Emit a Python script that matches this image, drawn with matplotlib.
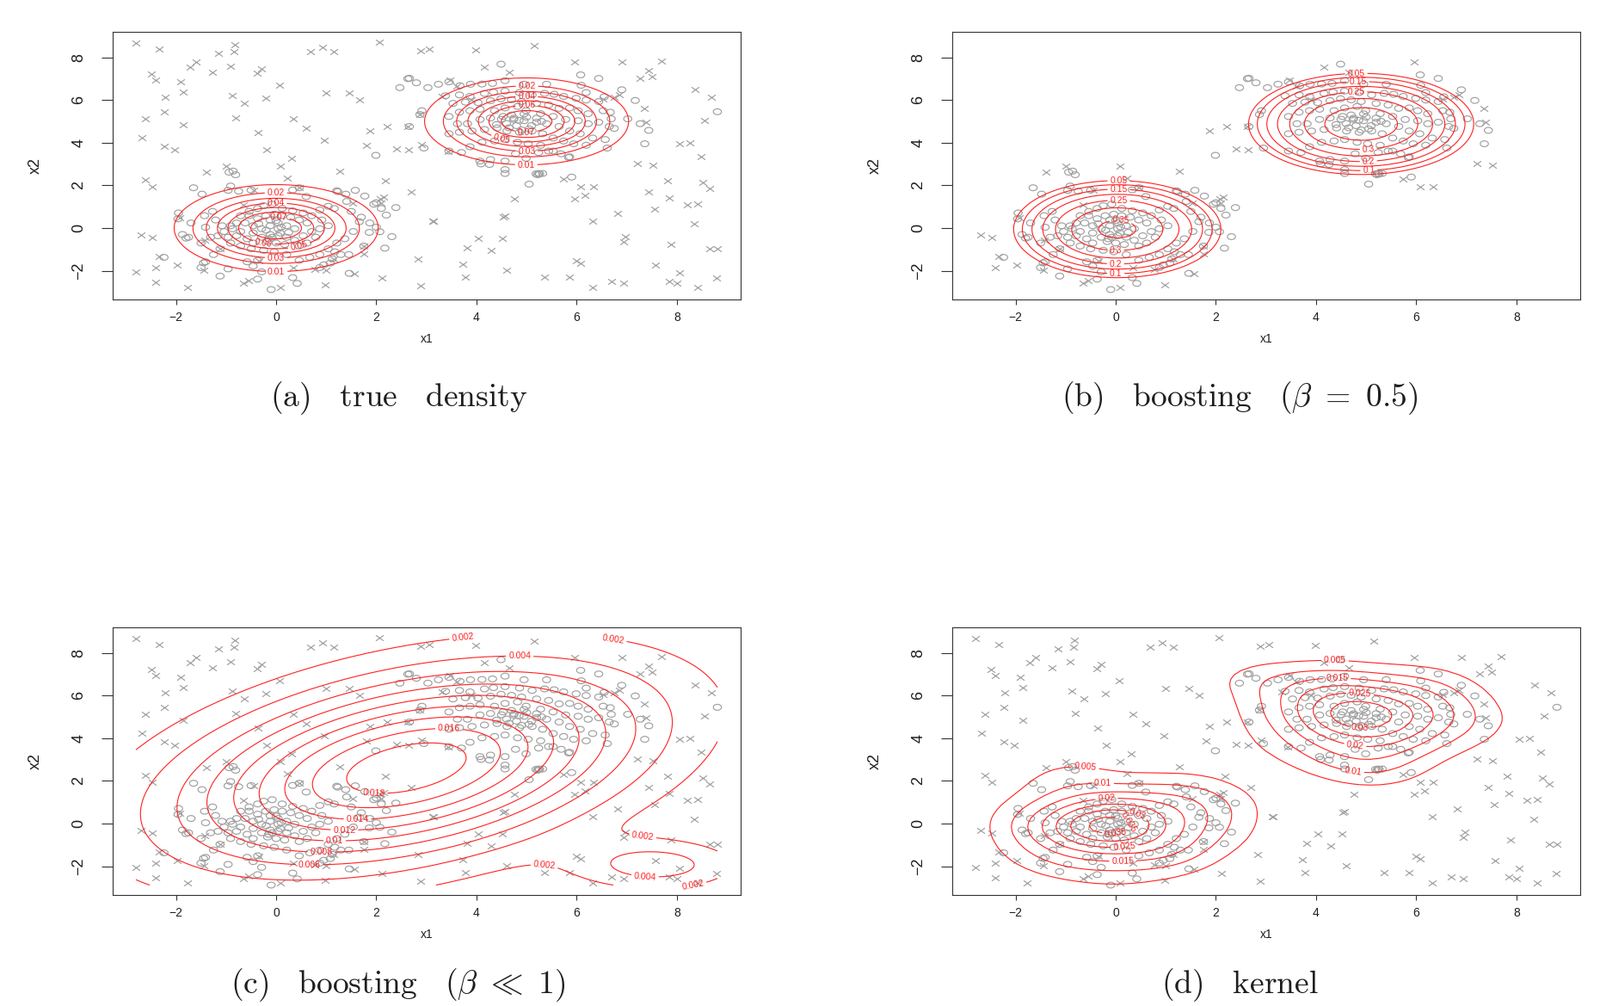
import numpy as np
import matplotlib
matplotlib.use("Agg")
import matplotlib.pyplot as plt
from matplotlib.path import Path

plt.rcParams['mathtext.fontset'] = 'cm'
plt.rcParams['font.family'] = ['Liberation Sans', 'DejaVu Sans']
plt.rcParams['axes.unicode_minus'] = True

# ---------------- data ----------------
circles_1 = np.array([
    (-1.65, 1.89), (-1.48, 1.59), (-0.91, 1.97), (-0.96, 1.77), (-0.75, 1.73), (-0.50, 1.78), (-0.86, 2.67),
    (-0.94, 2.62), (-0.81, 2.50), (0.33, 1.79), (0.46, 1.89), (0.60, 1.48), (1.21, 1.75), (1.39, 1.59),
    (1.58, 1.77), (1.77, 1.50), (2.00, 1.19), (2.10, 0.92), (2.39, 0.96), (2.20, 0.61), (2.31, -0.40),
    (2.17, -0.94), (1.95, 1.12), (-1.95, 0.71), (-1.70, 0.24), (-1.43, 0.58), (-1.27, 0.78), (-1.21, 0.38),
    (-1.41, 0.04), (-1.75, -0.43), (-1.50, -0.70), (-1.31, -0.43), (-1.04, -0.16), (-0.91, 0.11), (-0.79, 0.24),
    (-0.71, 0.58), (-0.54, 0.78), (-0.37, 0.92), (-0.25, 1.05), (-0.08, 1.12), (0.12, 0.92), (0.33, 0.81),
    (0.54, 0.71), (0.71, 0.58), (0.87, 0.85), (1.04, 1.02), (1.16, 0.92), (1.41, 1.25), (1.50, 0.78),
    (1.70, 0.51), (1.87, 0.24), (2.00, 0.04), (1.54, -0.16), (1.37, -0.50), (1.21, -0.70), (1.04, -0.97),
    (0.87, -1.24), (0.67, -1.37), (0.46, -1.51), (0.21, -1.24), (-0.04, -1.11), (-0.25, -1.04), (-0.50, -0.97),
    (-0.71, -0.84), (-0.91, -0.70), (-1.12, -0.97), (-1.25, -1.24), (-1.41, -1.58), (-1.50, -1.85), (-1.12, -2.25),
    (-0.58, -1.58), (-0.37, -1.51), (-0.29, -2.05), (-0.10, -2.88), (0.33, -2.32), (0.42, -2.59), (0.87, -1.85),
    (1.12, -1.44), (1.29, -1.24), (1.45, -1.24), (1.75, -0.84), (1.08, -1.64), (-2.24, -1.37), (-1.87, -0.30),
    (-0.96, -1.91), (-0.46, -1.78),
    (-0.62, 0.24), (-0.46, 0.11), (-0.29, -0.03), (-0.12, 0.11), (0.04, 0.24), (0.21, 0.11), (0.37, -0.03),
    (-0.29, -0.43), (-0.12, -0.30), (0.04, -0.36), (0.21, -0.43), (-0.46, -0.23), (-0.58, -0.50), (-0.71, -0.16),
    (-0.17, -0.63), (0.00, -0.70), (0.17, -0.77), (0.37, -0.57), (0.54, -0.36), (0.71, -0.16), (0.62, 0.24),
    (0.46, 0.38), (0.29, 0.51), (0.12, 0.58), (-0.04, 0.65), (-0.21, 0.58), (-0.37, 0.44), (-0.54, 0.58),
    (-0.79, -0.36), (-0.87, -0.03), (0.46, -0.84), (0.62, -0.70), (0.79, -0.43), (0.87, -0.03), (1.04, 0.11),
    (0.91, 0.38), (-0.96, -0.43), (-1.08, 0.11), (-1.16, -0.36), (-0.46, -0.70), (0.04, -0.03), (-0.12, 0.38),
    (-0.08, -0.43), (0.08, -0.23),
    (-1.45, -1.63), (-0.37, -2.39), (-1.80, -0.47), (-1.96, 0.43), (1.23, 1.71), (1.86, -0.20), (2.07, -0.17),
    (1.66, 0.30), (1.46, -2.12), (0.95, -1.72), (1.17, -1.11),
    (-0.20, -0.10), (0.10, 0.05), (-0.35, 0.20), (0.25, -0.20), (0.00, 0.35), (-0.15, -0.50),
])

circles_2 = np.array([
    (4.49, 7.68), (2.66, 7.02), (2.80, 6.81), (2.47, 6.58), (3.03, 6.58), (3.24, 6.74), (3.45, 6.85), (3.67, 6.67),
    (3.88, 6.74), (4.11, 6.75), (4.32, 6.78), (4.57, 6.91), (4.95, 6.74), (5.40, 6.74), (6.08, 7.18), (6.44, 7.01),
    (6.09, 6.69), (6.90, 6.48), (6.19, 6.35), (7.17, 5.98), (6.55, 6.15), (2.91, 5.50), (2.87, 5.32), (3.38, 6.20),
    (3.66, 6.24), (3.87, 6.17), (4.16, 6.31), (4.34, 6.37), (4.57, 6.42), (4.86, 6.35), (5.11, 6.24), (5.36, 6.31),
    (5.55, 6.27), (5.74, 6.17), (5.99, 6.08), (6.19, 6.00), (6.44, 5.93), (3.53, 5.84), (3.78, 5.90), (4.03, 5.88),
    (4.28, 5.97), (4.49, 6.06), (4.70, 6.01), (4.90, 5.93), (5.20, 5.84), (5.44, 5.77), (5.65, 5.61), (5.86, 5.63),
    (6.03, 5.50), (6.23, 5.36), (6.53, 5.50), (6.67, 5.43), (6.69, 5.12), (3.45, 5.23), (3.66, 5.43), (3.87, 5.50),
    (4.07, 5.57), (4.36, 5.50), (4.57, 5.63), (4.82, 5.70), (4.99, 5.50), (5.28, 5.36), (5.53, 5.23), (5.78, 5.09),
    (6.03, 5.03), (6.23, 4.89), (6.44, 4.96), (6.65, 4.76), (7.27, 4.89), (7.44, 4.58), (7.36, 3.95), (3.62, 4.89),
    (3.82, 4.89), (4.07, 5.09), (4.28, 5.16), (4.53, 5.23), (4.74, 5.09), (4.95, 5.03), (5.20, 4.96), (5.40, 4.89),
    (5.65, 4.76), (5.86, 4.55), (6.07, 4.42), (6.32, 4.22), (6.57, 4.15), (6.61, 3.75), (3.45, 4.42), (3.66, 4.49),
    (3.91, 4.55), (4.16, 4.62), (4.41, 4.69), (4.61, 4.55), (4.86, 4.49), (5.11, 4.55), (5.32, 4.42), (5.53, 4.22),
    (5.74, 4.08), (5.94, 3.95), (6.19, 3.88), (3.45, 3.61), (3.70, 3.54), (3.87, 3.81), (4.11, 4.02), (4.36, 4.08),
    (4.57, 4.15), (4.82, 4.02), (5.03, 3.95), (5.28, 3.88), (5.53, 3.61), (5.69, 3.48), (5.86, 3.34), (4.07, 3.14),
    (4.28, 3.21), (4.57, 3.14), (4.78, 3.48), (4.99, 3.27), (5.24, 3.54), (5.44, 3.61), (4.57, 2.74), (4.57, 2.56),
    (5.24, 2.56), (5.32, 2.56), (5.05, 2.06), (5.90, 2.39), (2.95, 3.75), (2.66, 4.76), (1.99, 3.41),
    (8.81, 5.45), (7.02, 5.12), (6.75, 4.67), (5.26, 2.54), (5.22, 2.50), (4.09, 3.01), (4.26, 2.98), (5.19, 2.54),
    (2.63, 7.00), (5.84, 3.31),
    (4.60, 4.90), (4.80, 4.80), (5.00, 5.20), (4.70, 5.30), (4.90, 4.60), (5.10, 4.80), (4.50, 5.10), (4.85, 5.05),
    (5.20, 5.15), (4.65, 4.70), (5.05, 4.65), (4.40, 4.85), (4.95, 5.35), (5.30, 5.00), (4.75, 5.15),
])

crosses = np.array([
    (-2.80, 8.69), (-2.34, 8.39), (-0.83, 8.60), (-0.84, 8.25), (-1.16, 8.20), (-1.59, 7.77), (-1.71, 7.54),
    (-0.91, 7.58), (-1.28, 7.29), (-2.50, 7.22), (-2.41, 6.92), (-1.90, 6.87), (-1.86, 6.37), (-2.22, 6.14),
    (-2.24, 5.46), (-2.61, 5.12), (-1.86, 4.85), (-2.68, 4.22), (-2.23, 3.82), (-2.03, 3.67), (-0.87, 6.21),
    (-0.64, 5.83), (-0.80, 5.16), (-0.38, 7.27), (-0.30, 7.46), (0.07, 6.69), (-0.21, 6.08), (0.35, 5.12),
    (0.60, 4.68), (-0.37, 4.49), (-0.19, 3.67), (0.31, 3.27), (-1.00, 2.90), (0.08, 2.90), (0.69, 8.28),
    (0.92, 8.47), (0.99, 6.34), (0.96, 4.12),
    (1.15, 8.25), (2.06, 8.73), (2.88, 8.32), (3.06, 8.37), (3.99, 8.33), (5.15, 8.53), (4.16, 7.54), (4.66, 7.28),
    (3.47, 6.92), (3.61, 6.67), (1.46, 6.32), (1.67, 6.00), (3.32, 6.17), (2.22, 4.76), (1.87, 4.54), (1.80, 3.89),
    (2.40, 3.71), (2.65, 3.69), (2.91, 3.91), (3.43, 3.58), (2.62, 4.75), (3.89, 6.00), (2.86, 5.32),
    (5.96, 7.78), (6.91, 7.78), (7.70, 7.82), (7.44, 7.38), (7.50, 7.10), (7.26, 7.00), (8.37, 6.48), (8.69, 6.13),
    (6.53, 6.06), (6.75, 6.13), (6.86, 6.24), (7.35, 5.62), (7.38, 4.98), (8.55, 5.06), (8.05, 3.94), (8.26, 4.01),
    (8.48, 3.33), (7.22, 3.04), (7.53, 2.93),
    (5.74, 2.31), (6.08, 1.94), (6.34, 1.94), (6.16, 1.53), (5.96, 1.37), (7.82, 2.22), (8.52, 2.14), (8.65, 1.87),
    (7.44, 1.71), (7.85, 1.40), (7.55, 0.90), (8.21, 1.10), (8.41, 1.13), (8.34, 0.20), (6.81, 0.70), (6.32, 0.34),
    (6.98, -0.40), (6.94, -0.65), (7.89, -0.78), (8.65, -0.98), (8.81, -0.98), (5.99, -1.54), (6.08, -1.65),
    (7.57, -1.72), (8.05, -2.08), (5.35, -2.30), (5.86, -2.30), (8.79, -2.32), (6.70, -2.50), (6.94, -2.57),
    (7.85, -2.50), (8.01, -2.57), (6.32, -2.79), (8.41, -2.79),
    (1.27, 2.65), (2.18, 2.22), (2.69, 1.68), (2.14, 1.44), (2.09, 1.17), (3.12, 0.32), (3.14, 0.34), (4.53, 0.54),
    (4.56, 0.55), (4.76, 1.37), (4.03, -0.48), (4.52, -0.48), (3.82, -0.94), (4.29, -1.05), (2.84, -1.45),
    (3.72, -1.68), (4.61, -1.99), (3.78, -2.28), (2.12, -2.35), (2.89, -2.70), (1.57, -2.12), (1.75, -1.22),
    (1.15, -1.45), (1.00, -1.99), (1.52, 1.17), (1.75, -0.85),
    (0.23, 2.35), (0.46, 1.88), (-1.40, 2.61), (-2.61, 2.25), (-2.47, 1.94), (-2.70, -0.31), (-2.48, -0.44),
    (-2.34, -1.31), (-2.80, -2.06), (-2.40, -1.85), (-2.40, -2.52), (-1.97, -1.72), (-1.77, -2.79), (-1.45, -1.99),
    (-0.66, -2.59), (-0.55, -2.46), (0.09, -2.79), (0.97, -2.66), (0.35, -1.85), (0.78, -1.95), (-0.45, 1.77),
    (-0.66, 1.10), (-1.92, 0.50), (-1.11, -0.98), (-1.43, -0.58), (-0.34, -1.52), (2.08, 1.39),
])

# crosses that are still drawn in panel (b)
crosses_b = np.array([
    (4.16, 7.54), (5.96, 7.78), (4.66, 7.28), (3.47, 6.92), (3.61, 6.67), (6.86, 6.24), (6.53, 6.06), (6.75, 6.13),
    (7.35, 5.62), (7.38, 4.98), (7.22, 3.04), (7.53, 2.93), (5.74, 2.31), (6.08, 1.94), (6.34, 1.94), (1.87, 4.54),
    (2.22, 4.76), (2.40, 3.71), (2.65, 3.69), (2.62, 4.75), (3.89, 6.00),
    (-1.00, 2.90), (0.08, 2.90), (-1.40, 2.61), (1.27, 2.65), (0.23, 2.35), (0.46, 1.88), (2.14, 1.44), (2.09, 1.17),
    (-2.70, -0.31), (-2.48, -0.44), (-1.92, 0.50), (-2.40, -1.85), (-1.97, -1.72), (-1.45, -1.99), (-0.66, -2.59),
    (-0.55, -2.46), (0.09, -2.79), (0.97, -2.66), (1.57, -2.12), (1.75, -1.22), (-2.34, -1.31), (0.78, -1.95),
    (0.35, -1.85), (1.52, 1.17), (2.08, 1.39), (-0.45, 1.77), (-0.66, 1.10), (-1.11, -0.98), (-1.43, -0.58),
    (-0.34, -1.52), (1.15, -1.45), (1.75, -0.85),
])
# circles that are not drawn in panel (b)
circles_b_hidden = np.array([(8.81, 5.45)])

levels_a = [0.01, 0.02, 0.03, 0.04, 0.05, 0.06, 0.07]
levels_b = [0.05, 0.10, 0.15, 0.20, 0.25, 0.30, 0.35]
levels_c = [0.002, 0.004, 0.006, 0.008, 0.010, 0.012, 0.014, 0.016, 0.018]
levels_d = [0.005, 0.010, 0.015, 0.020, 0.025, 0.030, 0.035, 0.040]

titles = [r'$\mathrm{(a)\ \ \ true\ \ \ density}$',
          r'$\mathrm{(b)\ \ \ boosting\ \ \ (}\beta\ =\ 0.5\mathrm{)}$',
          r'$\mathrm{(c)\ \ \ boosting\ \ \ (}\beta\ \ll\ 1\mathrm{)}$',
          r'$\mathrm{(d)\ \ \ kernel}$']

# density model parameters (estimated from the contour shapes)
true_means = [(0.0, 0.0), (5.0, 5.0)]
true_weights = [0.5, 0.5]
true_sd = 1.0

boost_b = [dict(center=(0.03, -0.05), peak=0.36, rx=2.23, ry=2.45),
           dict(center=(4.90, 4.88), peak=0.385, rx=2.41, ry=2.54)]

boost_c_main = dict(mean=(2.6, 2.6), cov=[[8.9, 3.6], [3.6, 8.7]], peak=0.0195)
boost_c_bump = dict(mean=(7.6, -1.95), cov=[[1.2, 0.0], [0.0, 0.62]], peak=0.0049)

kde_sd = 0.72     # kernel standard deviation for panel (d)
kde_mass = 0.8    # total mass of the kernel estimate (read from the contour levels)

# label anchor points (level, (x, y))
labels_a = [(0.02, (0, 1.66)), (0.04, (0, 1.17)), (0.07, (0.05, 0.5)), (0.06, (-0.25, -0.71)),
            (0.05, (0.45, -0.85)), (0.03, (0, -1.4)), (0.01, (0, -2.04)),
            (0.02, (5, 6.66)), (0.04, (5, 6.17)), (0.06, (5, 5.75)), (0.07, (5, 4.5)),
            (0.05, (4.5, 4.15)), (0.03, (5, 3.6)), (0.01, (5, 2.96))]
labels_b = [(0.05, (0.06, 2.29)), (0.15, (0.06, 1.77)), (0.25, (0.06, 1.23)), (0.35, (0.1, 0.37)),
            (0.30, (0.0, -0.94)), (0.20, (0.0, -1.62)), (0.10, (0.0, -2.12)),
            (0.05, (4.8, 7.25)), (0.15, (4.84, 6.68)), (0.25, (4.8, 6.06)), (0.30, (5.05, 3.69)),
            (0.20, (5.05, 3.12)), (0.10, (5.05, 2.70))]
labels_c = [(0.002, (3.74, 8.68)), (0.002, (6.73, 8.61)), (0.002, (7.3, -0.9)), (0.002, (5.36, -1.9)),
            (0.002, (8.1, -2.7)), (0.004, (4.86, 7.83)), (0.004, (7.36, -2.48)), (0.016, (3.45, 4.41)),
            (0.018, (1.95, 1.4)), (0.014, (1.62, 0.15)), (0.012, (1.37, -0.38)), (0.010, (1.16, -0.89)),
            (0.008, (0.91, -1.43)), (0.006, (0.66, -1.99))]
labels_d = [(0.005, (-0.61, 2.68)), (0.010, (-0.26, 2.1)), (0.020, (-0.19, 1.54)), (0.030, (0.5, 0.86)),
            (0.040, (0.02, 0.57)), (0.035, (0.02, -0.69)), (0.025, (0.18, -1.16)), (0.015, (0.14, -1.73)),
            (0.005, (4.38, 7.6)), (0.015, (4.42, 6.72)), (0.025, (4.88, 6.01)), (0.035, (4.83, 4.84)),
            (0.030, (4.88, 3.76)), (0.020, (4.75, 3.26)), (0.010, (4.75, 2.68))]

# ---------------- density surfaces ----------------
circles = np.vstack([circles_1, circles_2])
allpts = np.vstack([circles, crosses])
xr = (allpts[:, 0].min(), allpts[:, 0].max())
yr = (allpts[:, 1].min(), allpts[:, 1].max())
xlim = (xr[0] - 0.04 * (xr[1] - xr[0]), xr[1] + 0.04 * (xr[1] - xr[0]))
ylim = (yr[0] - 0.04 * (yr[1] - yr[0]), yr[1] + 0.04 * (yr[1] - yr[0]))

gx = np.linspace(xr[0], xr[1], 240)
gy = np.linspace(yr[0], yr[1], 240)
GX, GY = np.meshgrid(gx, gy)


def gauss2(X, Y, mean, cov):
    inv = np.linalg.inv(np.asarray(cov))
    dx, dy = X - mean[0], Y - mean[1]
    return np.exp(-0.5 * (inv[0, 0] * dx * dx + 2 * inv[0, 1] * dx * dy + inv[1, 1] * dy * dy))


Z_a = sum(w * gauss2(GX, GY, m, [[true_sd ** 2, 0], [0, true_sd ** 2]]) / (2 * np.pi * true_sd ** 2)
          for m, w in zip(true_means, true_weights))

Z_b = np.zeros_like(GX)
for p in boost_b:
    q = ((GX - p['center'][0]) / p['rx']) ** 2 + ((GY - p['center'][1]) / p['ry']) ** 2
    Z_b += p['peak'] * np.clip(1 - q, 0, None)

Z_c = (boost_c_main['peak'] * gauss2(GX, GY, boost_c_main['mean'], boost_c_main['cov'])
       + boost_c_bump['peak'] * gauss2(GX, GY, boost_c_bump['mean'], boost_c_bump['cov']))


def kde2d(x, y, n, lims, sd, mass):
    kx = np.linspace(lims[0], lims[1], n)
    ky = np.linspace(lims[2], lims[3], n)
    dx = np.exp(-0.5 * ((kx[:, None] - x[None, :]) / sd) ** 2) / np.sqrt(2 * np.pi)
    dy = np.exp(-0.5 * ((ky[:, None] - y[None, :]) / sd) ** 2) / np.sqrt(2 * np.pi)
    z = mass * (dx @ dy.T) / (len(x) * sd * sd)
    return kx, ky, z.T


kx, ky, Z_d = kde2d(circles[:, 0], circles[:, 1], 60, (xr[0], xr[1], yr[0], yr[1]), kde_sd, kde_mass)

# ---------------- figure ----------------
W, H = 1860, 1169
fig = plt.figure(figsize=(W / 100, H / 100), dpi=100)
renderer = fig.canvas.get_renderer()

GRAY = '#a0a0a0'
RED = '#ff2020'
DARK = '#1e1e1e'
boxes = [(131, 37, 861, 348), (1107, 37, 1837, 348), (131, 729, 861, 1040), (1107, 729, 1837, 1040)]
title_pos = [(464, 463), (1441, 463), (463, 1145), (1442, 1145)]

# markers: the original raster is stretched horizontally, so symbols are wide
ell = np.linspace(0, 2 * np.pi, 41)
circle_marker = Path(np.column_stack([np.cos(ell), 0.72 * np.sin(ell)]))
cross_marker = Path([(-1, -0.72), (1, 0.72), (-1, 0.72), (1, -0.72)],
                    [Path.MOVETO, Path.LINETO, Path.MOVETO, Path.LINETO])


def make_axes(box):
    l, t, r, b = box
    return fig.add_axes([l / W, 1 - b / H, (r - l) / W, (b - t) / H])


def style(ax):
    ax.set_xlim(xlim)
    ax.set_ylim(ylim)
    ax.set_xticks([-2, 0, 2, 4, 6, 8])
    ax.set_yticks([-2, 0, 2, 4, 6, 8])
    ax.tick_params(direction='out', width=0.8, color='#333333', labelcolor=DARK)
    ax.tick_params(axis='x', length=4.5, pad=5.5, labelsize=10)
    ax.tick_params(axis='y', length=9.5, pad=12.5, labelsize=13, labelrotation=90)
    for lab in ax.get_yticklabels():
        lab.set_va('center')
    for s in ax.spines.values():
        s.set_linewidth(0.8)
        s.set_color('#333333')
    ax.set_xlabel('x1', fontsize=10, labelpad=8, color=DARK)
    ax.set_ylabel('x2', fontsize=13, labelpad=24, color=DARK)


def points(ax, circ, cr):
    ax.scatter(circ[:, 0], circ[:, 1], s=46, marker=circle_marker, facecolors='none',
               edgecolors=GRAY, linewidths=0.85, zorder=2)
    ax.scatter(cr[:, 0], cr[:, 1], s=42, marker=cross_marker, c=GRAY, linewidths=0.85, zorder=2)


def densify(p, step=1.0):
    d = np.hypot(np.diff(p[:, 0]), np.diff(p[:, 1]))
    s = np.concatenate([[0], np.cumsum(d)])
    if s[-1] <= 0:
        return p
    t = np.linspace(0, s[-1], max(int(s[-1] / step) + 2, 2))
    return np.column_stack([np.interp(t, s, p[:, 0]), np.interp(t, s, p[:, 1])])


def contours(ax, X, Y, Z, levels, labels, fs=7.5):
    trans = ax.transData
    inv = trans.inverted()
    for lev in levels:
        cs = ax.contour(X, Y, Z, levels=[lev])
        segs = [np.asarray(sg) for sg in cs.allsegs[0] if len(sg) > 1]
        cs.remove()
        pix = [densify(trans.transform(sg)) for sg in segs]
        cuts = []
        for l_, pos in labels:
            if abs(l_ - lev) > 1e-9 or not pix:
                continue
            pp = trans.transform(pos)
            best = None
            for i, sp in enumerate(pix):
                dd = np.hypot(sp[:, 0] - pp[0], sp[:, 1] - pp[1])
                j = int(np.argmin(dd))
                if best is None or dd[j] < best[0]:
                    best = (dd[j], i, j)
            _, i, j = best
            sp = pix[i]
            c = sp[j]
            j0, j1 = max(j - 6, 0), min(j + 6, len(sp) - 1)
            tv = sp[j1] - sp[j0]
            ang = np.degrees(np.arctan2(tv[1], tv[0]))
            if ang > 90:
                ang -= 180
            if ang < -90:
                ang += 180
            cx, cy = inv.transform(c)
            t = ax.text(cx, cy, format(lev, 'g'), fontsize=fs, color=RED, ha='center', va='center',
                        rotation=0, rotation_mode='anchor', zorder=4)
            hw = t.get_window_extent(renderer).width / 2 + 2.5
            t.set_rotation(ang)
            cuts.append((i, c, hw))
        for i, sp in enumerate(pix):
            keep = np.ones(len(sp), bool)
            for k, c, hw in cuts:
                if k == i:
                    keep &= np.hypot(sp[:, 0] - c[0], sp[:, 1] - c[1]) > hw
            idx = np.flatnonzero(keep)
            if len(idx) < 2:
                continue
            runs = np.split(idx, np.flatnonzero(np.diff(idx) > 1) + 1)
            for r in runs:
                if len(r) < 2:
                    continue
                dxy = inv.transform(sp[r])
                ax.plot(dxy[:, 0], dxy[:, 1], color=RED, lw=0.8, zorder=3, solid_capstyle='butt')


hidden = np.array([np.any(np.all(np.isclose(c, circles_b_hidden), axis=1)) for c in circles])
circles_b = circles[~hidden]

panels = [
    (circles, crosses, GX, GY, Z_a, levels_a, labels_a),
    (circles_b, crosses_b, GX, GY, Z_b, levels_b, labels_b),
    (circles, crosses, GX, GY, Z_c, levels_c, labels_c),
    (circles, crosses, kx, ky, Z_d, levels_d, labels_d),
]

for box, tpos, title, (circ, cr, X, Y, Z, lev, lab) in zip(boxes, title_pos, titles, panels):
    ax = make_axes(box)
    style(ax)
    points(ax, circ, cr)
    contours(ax, X, Y, Z, lev, lab)
    ax.set_xlim(xlim)
    ax.set_ylim(ylim)
    fig.text(tpos[0] / W, 1 - tpos[1] / H, title, ha='center', va='center', fontsize=27, color=DARK)

fig.savefig('out.png', dpi=100)
